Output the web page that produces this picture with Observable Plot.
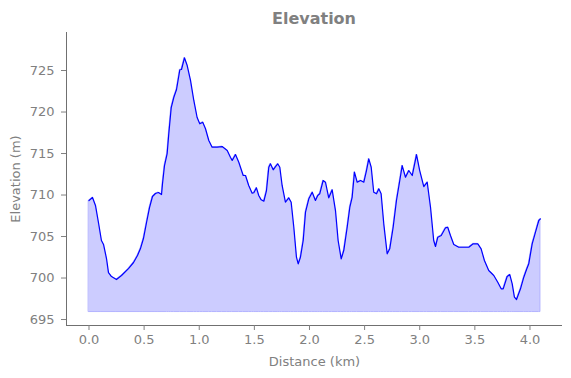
<!DOCTYPE html>
<html>
<head>
<meta charset="utf-8">
<script src="https://cdn.jsdelivr.net/npm/d3@7"></script>
<script src="https://cdn.jsdelivr.net/npm/@observablehq/plot@0.6"></script>
<style>
  html, body { margin: 0; padding: 0; background: #fff; }
  #title { width: 571px; box-sizing: border-box; padding-left: 57px; height: 32px;
    text-align: center; font: bold 16px "DejaVu Sans", sans-serif; line-height: 37px; color: #808080; }
  #chart svg { display: block; }
</style>
</head>
<body>
<div id="title">Elevation</div>
<div id="chart"></div>
<script>
const distanceKm = [
  0.000, 0.032, 0.059, 0.086, 0.113, 0.132, 0.159, 0.177, 0.204, 0.249,
  0.295, 0.358, 0.404, 0.440, 0.467, 0.494, 0.522, 0.549, 0.576, 0.603,
  0.630, 0.658, 0.667, 0.685, 0.709, 0.724, 0.746, 0.769, 0.794, 0.824,
  0.839, 0.866, 0.891, 0.921, 0.951, 0.981, 1.005, 1.032, 1.057, 1.087,
  1.117, 1.163, 1.208, 1.254, 1.283, 1.299, 1.329, 1.359, 1.399, 1.420,
  1.449, 1.480, 1.495, 1.519, 1.540, 1.562, 1.586, 1.610, 1.631, 1.646,
  1.671, 1.692, 1.712, 1.731, 1.752, 1.782, 1.812, 1.834, 1.858, 1.882,
  1.898, 1.918, 1.943, 1.964, 1.994, 2.025, 2.054, 2.075, 2.093, 2.124,
  2.145, 2.175, 2.206, 2.236, 2.260, 2.288, 2.311, 2.342, 2.366, 2.387,
  2.408, 2.433, 2.463, 2.493, 2.517, 2.538, 2.560, 2.583, 2.608, 2.629,
  2.650, 2.674, 2.705, 2.728, 2.759, 2.789, 2.819, 2.841, 2.871, 2.901,
  2.932, 2.971, 3.000, 3.037, 3.068, 3.098, 3.127, 3.143, 3.164, 3.195,
  3.234, 3.254, 3.279, 3.309, 3.354, 3.445, 3.485, 3.527, 3.557, 3.587,
  3.626, 3.672, 3.708, 3.739, 3.757, 3.793, 3.817, 3.839, 3.859, 3.878,
  3.914, 3.944, 3.968, 3.989, 4.020, 4.050, 4.080, 4.095
];
const elevationM = [
  709.34, 709.70, 708.74, 706.69, 704.52, 704.04, 702.35, 700.66, 700.18, 699.82,
  700.30, 701.14, 701.87, 702.71, 703.55, 704.76, 706.69, 708.49, 709.82, 710.18,
  710.30, 710.06, 711.39, 713.55, 715.00, 717.41, 720.54, 721.75, 722.71, 725.09,
  725.12, 726.53, 725.60, 723.82, 721.39, 719.34, 718.58, 718.77, 717.98, 716.57,
  715.76, 715.76, 715.84, 715.36, 714.56, 714.16, 714.88, 713.95, 712.35, 712.35,
  711.15, 710.22, 710.27, 710.87, 709.94, 709.42, 709.25, 710.54, 713.35, 713.76,
  713.04, 713.43, 713.76, 713.35, 711.15, 709.13, 709.66, 709.13, 706.12, 702.51,
  701.71, 702.51, 704.52, 707.93, 709.54, 710.34, 709.34, 709.94, 710.15, 711.75,
  711.54, 709.66, 710.63, 708.13, 704.52, 702.31, 703.31, 706.12, 708.53, 709.73,
  712.75, 711.54, 711.75, 711.54, 712.95, 714.36, 713.35, 710.34, 710.15, 710.75,
  710.15, 706.53, 702.92, 703.52, 706.12, 709.34, 711.75, 713.55, 712.14, 712.95,
  712.35, 714.88, 712.95, 711.02, 711.54, 708.53, 704.52, 703.80, 704.92, 705.12,
  706.05, 706.12, 705.12, 704.04, 703.71, 703.71, 704.12, 704.12, 703.52, 702.11,
  700.90, 700.30, 699.49, 698.70, 698.70, 700.18, 700.42, 699.30, 697.69, 697.41,
  698.70, 700.10, 700.99, 701.71, 704.12, 705.52, 706.93, 707.13
];
const fillBase = 695.9;
const xTicks = [0, 0.5, 1.0, 1.5, 2.0, 2.5, 3.0, 3.5, 4.0];
const yTicks = [695, 700, 705, 710, 715, 720, 725];
const xDomain = [-0.204, 4.295];
const yDomain = [694.28, 729.58];

const data = distanceKm.map((d, i) => ({ d, e: elevationM[i] }));

const gray = "#808080";
const chart = Plot.plot({
  width: 571,
  height: 346,
  marginTop: 0,
  marginLeft: 66,
  marginRight: 9,
  marginBottom: 53,
  style: { fontFamily: "DejaVu Sans, sans-serif", fontSize: "13px", color: gray, background: "white" },
  x: { domain: xDomain },
  y: { domain: yDomain },
  marks: [
    Plot.areaY(data, { x: "d", y1: fillBase, y2: "e", fill: "#ccccff", stroke: "#b3b3ff", strokeWidth: 1 }),
    Plot.lineY(data, { x: "d", y: "e", stroke: "#0000ff", strokeWidth: 1.2 }),
    Plot.ruleX([xDomain[0]], { stroke: "#707070", strokeWidth: 1 }),
    Plot.ruleY([yDomain[0]], { stroke: "#707070", strokeWidth: 1 }),
    Plot.axisX({ ticks: xTicks, tickFormat: d3.format(".1f"), tickSize: 5, tickPadding: 4, stroke: gray,
      fill: gray, fontSize: 13, label: "Distance (km)", labelAnchor: "center", labelArrow: "none", labelOffset: 40 }),
    Plot.axisY({ ticks: yTicks, tickSize: 5, tickPadding: 7, stroke: gray, fill: gray, fontSize: 13,
      label: "Elevation (m)", labelAnchor: "center", labelArrow: "none", labelOffset: 56 })
  ]
});
document.getElementById("chart").appendChild(chart);
</script>
</body>
</html>
